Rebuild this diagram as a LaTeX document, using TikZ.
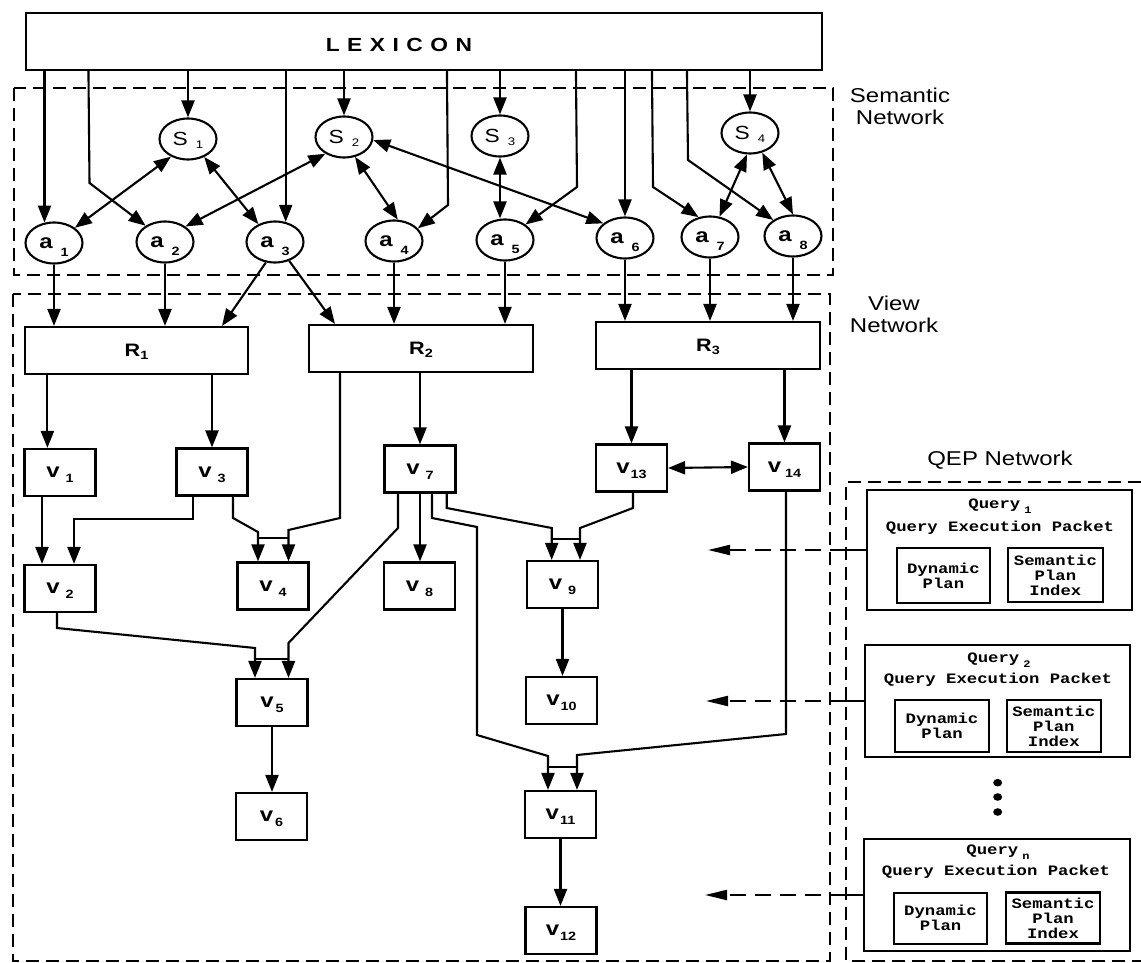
\documentclass[tikz,border=0pt]{standalone}
\usepackage{fontspec}
\usetikzlibrary{arrows.meta,shapes.geometric}
\newfontfamily\diaglabel[FakeStretch=1.2]{Liberation Sans}
\newfontfamily\diagmono[FakeStretch=1.2]{Liberation Mono}
% node labels with spaced subscripts
\newcommand\Slab[1]{{\diaglabel\fontsize{19}{19}\selectfont S\hspace{8pt}\smash{\raisebox{-3pt}{\fontsize{11}{11}\selectfont #1}}}}
\newcommand\Alab[1]{{\diaglabel\bfseries\fontsize{20}{20}\selectfont a\hspace{8pt}\smash{\raisebox{-8pt}{\fontsize{12}{12}\selectfont #1}}}}
\newcommand\Rlab[1]{{\diaglabel\bfseries\fontsize{18}{18}\selectfont R\smash{\raisebox{-3pt}{\fontsize{12}{12}\selectfont #1}}}}
\newcommand\Vlab[2][6pt]{{\diaglabel\bfseries\fontsize{20}{20}\selectfont v\hspace{#1}\smash{\raisebox{-5pt}{\fontsize{12}{12}\selectfont #2}}}}
\newcommand\Qlab[1]{Query\hspace{4pt}\smash{\raisebox{-5pt}{\fontsize{10}{10}\selectfont #1}}}
\begin{document}
\begin{tikzpicture}[x=1pt,y=-1pt,
  conn/.style={line width=2.1pt},
  arr/.style={conn,-{Triangle[length=17pt,width=13pt]}},
  darr/.style={conn,{Triangle[length=17pt,width=13pt]}-{Triangle[length=17pt,width=13pt]}},
  qarr/.style={conn,dash pattern=on 16pt off 9pt,-{Triangle[length=22pt,width=10pt]}},
  region/.style={line width=1.4pt,dash pattern=on 13pt off 7pt},
  ell/.style={ellipse,draw,line width=2.1pt,minimum width=57pt,minimum height=41pt,inner sep=0pt},
  rbox/.style={rectangle,draw,line width=2.1pt,minimum width=224pt,minimum height=47pt,inner sep=0pt},
  vbox/.style={rectangle,draw,line width=2.1pt,minimum width=71pt,minimum height=47pt,inner sep=0pt},
  qbox/.style={rectangle,draw,line width=2.1pt,inner sep=0pt},
  ibox/.style={rectangle,draw,line width=2.1pt,inner sep=0pt,align=center,
    font={\diagmono\bfseries\fontsize{14.4}{15}\selectfont}},
  qtext/.style={inner sep=0pt,font={\diagmono\bfseries\fontsize{14.4}{15}\selectfont}},
  reglab/.style={align=center,inner sep=0pt,font={\diaglabel\fontsize{20}{22}\selectfont}}]

\useasboundingbox (0,0) rectangle (1141,963);
\fill[white] (0,0) rectangle (1141,963);

% dashed network regions
\draw[region] (14,88) rectangle (833,275);
\draw[region] (13,294) rectangle (830,961);
\draw[region] (1141,482) -- (846,482) -- (846,961) -- (1141,961);

\node[reglab] (semlab) at (900,106) {Semantic\\Network};
\node[reglab] (viewlab) at (894,314) {View\\Network};
\node[reglab] (qeplab) at (1000,460) {QEP Network};

% lexicon
\node[rectangle,draw,line width=2.1pt,minimum width=796pt,minimum height=57pt,inner sep=0pt] (LEX) at (424,41.5) {};
\node[inner sep=0pt,font={\diaglabel\bfseries\fontsize{19}{19}\selectfont}] (lextext) at (399,45)
  {L\kern7.5pt E\kern7.5pt X\kern7.5pt I\kern7.5pt C\kern7.5pt O\kern7.5pt N};

% semantic network
\node[ell] (S1) at (188,139) {\Slab{1}};
\node[ell] (S2) at (344,137) {\Slab{2}};
\node[ell] (S3) at (500,136) {\Slab{3}};
\node[ell] (S4) at (750,133) {\Slab{4}};
\node[ell] (a1) at (54,243) {\Alab{1}};
\node[ell] (a2) at (165,242) {\Alab{2}};
\node[ell] (a3) at (275,242) {\Alab{3}};
\node[ell] (a4) at (394,241) {\Alab{4}};
\node[ell] (a5) at (505,240) {\Alab{5}};
\node[ell] (a6) at (625,238) {\Alab{6}};
\node[ell] (a7) at (710,237) {\Alab{7}};
\node[ell] (a8) at (793,236) {\Alab{8}};

% view network
\node[rbox,minimum width=223pt] (R1) at (136.5,350.5) {\Rlab{1}};
\node[rbox] (R2) at (421,348.5) {\Rlab{2}};
\node[rbox] (R3) at (708,345.5) {\Rlab{3}};

\node[vbox] (v1) at (60,472.5) {\Vlab{1}};
\node[vbox] (v3) at (212,472) {\Vlab{3}};
\node[vbox] (v7) at (420,469) {\Vlab{7}};
\node[vbox] (v13) at (631.5,468) {\Vlab[1pt]{13}};
\node[vbox] (v14) at (784.5,467) {\Vlab[4pt]{14}};
\node[vbox] (v2) at (60,588.5) {\Vlab{2}};
\node[vbox] (v4) at (273,586) {\Vlab{4}};
\node[vbox] (v8) at (419.5,586) {\Vlab{8}};
\node[vbox] (v9) at (562.5,584.5) {\Vlab{9}};
\node[vbox] (v5) at (272,702.5) {\Vlab[2pt]{5}};
\node[vbox] (v10) at (561.5,700.5) {\Vlab[1pt]{10}};
\node[vbox] (v6) at (271.5,816.5) {\Vlab[2pt]{6}};
\node[vbox] (v11) at (560.5,814.5) {\Vlab[1pt]{11}};
\node[vbox] (v12) at (561,930.5) {\Vlab[1pt]{12}};

% QEP network packets
\node[qbox,minimum width=265pt,minimum height=120pt] (Q1) at (999.3,550) {};
\node[qtext] (Q1t) at (1000,505) {\Qlab{1}};
\node[qtext] (Q1p) at (1000,528) {Query Execution Packet};
\node[ibox,minimum width=93pt,minimum height=55pt] (Q1d) at (943.4,575.5) {Dynamic\\Plan};
\node[ibox,minimum width=95pt,minimum height=54pt] (Q1s) at (1055.4,575) {Semantic\\Plan\\Index};

\node[qbox,minimum width=265pt,minimum height=112pt] (Q2) at (997.5,701) {};
\node[qtext] (Q2t) at (999,659) {\Qlab{2}};
\node[qtext] (Q2p) at (998,680) {Query Execution Packet};
\node[ibox,minimum width=94pt,minimum height=52pt] (Q2d) at (942,726) {Dynamic\\Plan};
\node[ibox,minimum width=94.5pt,minimum height=52pt] (Q2s) at (1053.8,726) {Semantic\\Plan\\Index};

\node[qbox,minimum width=266pt,minimum height=112pt] (Qn) at (997,895) {};
\node[qtext] (Qnt) at (998,851) {\Qlab{n}};
\node[qtext] (Qnp) at (996,872) {Query Execution Packet};
\node[ibox,minimum width=93pt,minimum height=51pt] (Qnd) at (940.5,918.3) {Dynamic\\Plan};
\node[ibox,minimum width=94pt,minimum height=51pt] (Qns) at (1053,918) {Semantic\\Plan\\Index};

\fill (997.7,782.7) ellipse [x radius=4.5pt, y radius=3.8pt];
\fill (997.7,797) ellipse [x radius=4.5pt, y radius=3.8pt];
\fill (997.7,812) ellipse [x radius=4.5pt, y radius=3.8pt];

% lexicon feeds
\draw[arr] (LEX.south -| a1.115) -- (a1.115);
\draw[arr] ([xshift=63.5pt]LEX.south west) -- (89.5,183) -- (a2.140);
\draw[arr] (LEX.south -| S1.north) -- (S1.north);
\draw[arr] (LEX.south -| a3.62) -- (a3.62);
\draw[arr] (LEX.south -| S2.north) -- (S2.north);
\draw[arr] ([xshift=422pt]LEX.south west) -- (448,205) -- (a4.28);
\draw[arr] (LEX.south -| S3.north) -- (S3.north);
\draw[arr] ([xshift=551pt]LEX.south west) -- (577,187) -- (a5.37);
\draw[arr] (LEX.south -| a6.north) -- (a6.north);
\draw[arr] ([xshift=627pt]LEX.south west) -- (653,187) -- (a7.120);
\draw[arr] ([xshift=662pt]LEX.south west) -- (688,160) -- (a8.141);
\draw[arr] (LEX.south -| S4.north) -- (S4.north);

% semantic links
\draw[darr] (S1.226) -- (a1.36);
\draw[darr] (S1.312) -- (a3.133);
\draw[darr] (S2.222) -- (a2.37);
\draw[darr] (S2.299) -- (a4.80);
\draw[darr] (S2.354) -- (a6.146);
\draw[darr] (S3.south) -- (S3.south |- a5.north);
\draw[darr] (S4.262) -- (a7.65);
\draw[darr] (S4.302) -- (a8.north);

% attributes into relations
\draw[arr] (a1.south) -- (a1.south |- R1.north);
\draw[arr] (a2.south) -- (a2.south |- R1.north);
\draw[arr] (a3.246) -- ([xshift=85.5pt]R1.north);
\draw[arr] (a3.307) -- ([xshift=-86pt]R2.north);
\draw[arr] (a4.south) -- (a4.south |- R2.north);
\draw[arr] (a5.south) -- (a5.south |- R2.north);
\draw[arr] (a6.south) -- (a6.south |- R3.north);
\draw[arr] (a7.south) -- (a7.south |- R3.north);
\draw[arr] (a8.south) -- (a8.south |- R3.north);

% relations into views
\draw[arr] ([xshift=-12.6pt]v1.north |- R1.south) -- ([xshift=-12.6pt]v1.north);
\draw[arr] (v3.north |- R1.south) -- (v3.north);
\draw[arr] (v7.north |- R2.south) -- (v7.north);
\draw[arr] (v13.north |- R3.south) -- (v13.north);
\draw[arr] (v14.north |- R3.south) -- (v14.north);
\draw[darr] (v13.east) -- (v14.west);

% view derivations
\draw[arr] ([xshift=-18pt]v1.south) -- ([xshift=-18pt]v2.north);
\draw[arr] ([xshift=-19pt]v3.south) -- (193,519) -- (74,519) -- ([xshift=14pt]v2.north);

\draw[arr] ([xshift=21pt]v3.south) -- (233,518) -- (258,532) -- ([xshift=-15pt]v4.north);
\draw[arr] ([xshift=-81pt]R2.south) -- (340,518) -- (288.5,530) -- ([xshift=15.5pt]v4.north);
\draw[conn] (258,538) -- (288.5,538);

\draw[arr] ([xshift=-22pt]v7.south) -- (398,528) -- (288.5,643) -- ([xshift=16.5pt]v5.north);
\draw[arr] ([xshift=-3pt]v2.south) -- (57,628) -- (255,648) -- ([xshift=-17pt]v5.north);
\draw[conn] (255,659) -- (288.5,659);
\draw[arr] (v5.south) -- (v5.south |- v6.north);

\draw[arr] (v7.south) -- (v7.south |- v8.north);

\draw[arr] ([xshift=26.7pt]v7.south) -- (446.7,508) -- (551.7,528) -- ([xshift=-10.8pt]v9.north);
\draw[arr] ([xshift=1.5pt]v13.south) -- (633,508) -- (580,528) -- ([xshift=17.5pt]v9.north);
\draw[conn] (551.7,539) -- (580,539);
\draw[arr] (v9.south) -- (v9.south |- v10.north);

\draw[arr] ([xshift=12pt]v7.south) -- (432,518) -- (477,527) -- (477,735) -- (548,756) -- ([xshift=-12.5pt]v11.north);
\draw[arr] ([xshift=1.5pt]v14.south) -- (786,734) -- (577,755) -- ([xshift=16.5pt]v11.north);
\draw[conn] (548,767) -- (577,767);
\draw[arr] (v11.south) -- (v11.south |- v12.north);

% packets dispatched into the view network
\coordinate (q1b) at (846,550);
\coordinate (q1e) at (708,550);
\draw[conn] (Q1.west) -- (q1b);
\draw[qarr] (q1b) -- (q1e);
\coordinate (q2b) at (846,701);
\coordinate (q2e) at (706,701);
\draw[conn] (Q2.west) -- (q2b);
\draw[qarr] (q2b) -- (q2e);
\coordinate (qnb) at (846,895);
\coordinate (qne) at (705,895);
\draw[conn] (Qn.west) -- (qnb);
\draw[qarr] (qnb) -- (qne);
\end{tikzpicture}
\end{document}
